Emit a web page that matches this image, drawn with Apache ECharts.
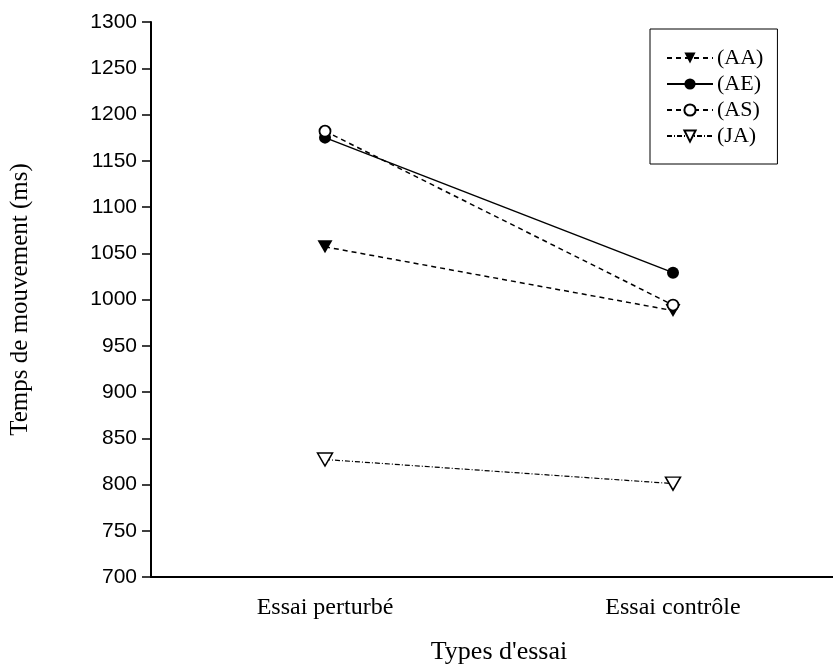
<!DOCTYPE html>
<html>
<head>
<meta charset="utf-8">
<script src="https://cdn.jsdelivr.net/npm/echarts@6/dist/echarts.min.js"></script>
<style>
  html, body { margin: 0; padding: 0; background: #fff; }
  #chart_content { width: 833px; height: 671px; }
</style>
</head>
<body>
<div id="chart_content"></div>
<script>
// donnees
let categories = ['Essai perturbé', 'Essai contrôle'];
let seriesAA = [1057, 988];
let seriesAE = [1175, 1029];
let seriesAS = [1182, 994];
let seriesJA = [827, 801];
let yTicks = { min: 700, max: 1300, interval: 50 };

let serif = '"Liberation Serif", "DejaVu Serif", serif';
let sans = '"Liberation Sans", Arial, sans-serif';

let lineChart = {
    __dom: null,
    __chart: null,
    __option: {},
    initChart: function () {
        this.__dom = document.getElementById('chart_content');
        this.__chart = echarts.init(this.__dom, null, { renderer: 'canvas' });
        this.__option = {
            backgroundColor: '#fff',
            animation: false,
            grid: {
                left: 151,
                top: 22,
                bottom: 94,
                width: 696,
                outerBoundsMode: 'none',
                containLabel: false
            },
            legend: {
                orient: 'vertical',
                left: 650,
                top: 29,
                padding: [18, 14, 17, 16],
                borderColor: '#000',
                borderWidth: 1,
                itemWidth: 46,
                itemHeight: 14,
                itemGap: 4,
                textStyle: {
                    fontFamily: serif,
                    fontSize: 22,
                    color: '#000',
                    padding: [0, 0, 0, -1]
                },
                data: ['(AA)', '(AE)', '(AS)', '(JA)']
            },
            xAxis: {
                type: 'category',
                data: categories,
                boundaryGap: true,
                name: "Types d'essai",
                nameLocation: 'middle',
                nameGap: 62,
                nameTextStyle: {
                    fontFamily: serif,
                    fontSize: 26,
                    color: '#000'
                },
                axisLine: { lineStyle: { color: '#000', width: 2 } },
                axisTick: { alignWithLabel: true, length: 8, lineStyle: { color: '#000', width: 1.5 } },
                axisLabel: {
                    fontFamily: serif,
                    fontSize: 24,
                    color: '#000',
                    margin: 19
                },
                splitLine: { show: false }
            },
            yAxis: {
                type: 'value',
                min: yTicks.min,
                max: yTicks.max,
                interval: yTicks.interval,
                name: 'Temps de mouvement (ms)',
                nameLocation: 'middle',
                nameGap: 118,
                nameTextStyle: {
                    fontFamily: serif,
                    fontSize: 25,
                    color: '#000'
                },
                axisLine: { show: true, lineStyle: { color: '#000', width: 2 } },
                axisTick: { show: true, length: 9, lineStyle: { color: '#000', width: 1.5 } },
                axisLabel: {
                    fontFamily: sans,
                    fontSize: 21,
                    color: '#000',
                    margin: 14,
                    formatter: function (v) { return String(v); }
                },
                splitLine: { show: false }
            },
            series: [
                {
                    name: '(AA)',
                    type: 'line',
                    data: seriesAA,
                    symbol: 'triangle',
                    symbolRotate: 180,
                    symbolSize: [15, 13],
                    lineStyle: { color: '#000', width: 1.5, type: [5, 4] },
                    itemStyle: { color: '#000', borderColor: '#000', borderWidth: 0 }
                },
                {
                    name: '(AE)',
                    type: 'line',
                    data: seriesAE,
                    symbol: 'circle',
                    symbolSize: 12,
                    lineStyle: { color: '#000', width: 1.5, type: 'solid' },
                    itemStyle: { color: '#000', borderColor: '#000', borderWidth: 0 }
                },
                {
                    name: '(AS)',
                    type: 'line',
                    data: seriesAS,
                    symbol: 'circle',
                    symbolSize: 11,
                    lineStyle: { color: '#000', width: 1.5, type: [5, 4] },
                    itemStyle: { color: '#fff', borderColor: '#000', borderWidth: 1.8 }
                },
                {
                    name: '(JA)',
                    type: 'line',
                    data: seriesJA,
                    symbol: 'triangle',
                    symbolRotate: 180,
                    symbolSize: [15, 13],
                    lineStyle: { color: '#000', width: 1.2, type: [5, 2, 1, 2] },
                    itemStyle: { color: '#fff', borderColor: '#000', borderWidth: 1.5 }
                }
            ]
        };
        this.__chart.setOption(this.__option);
    }
};

lineChart.initChart();
</script>
</body>
</html>
